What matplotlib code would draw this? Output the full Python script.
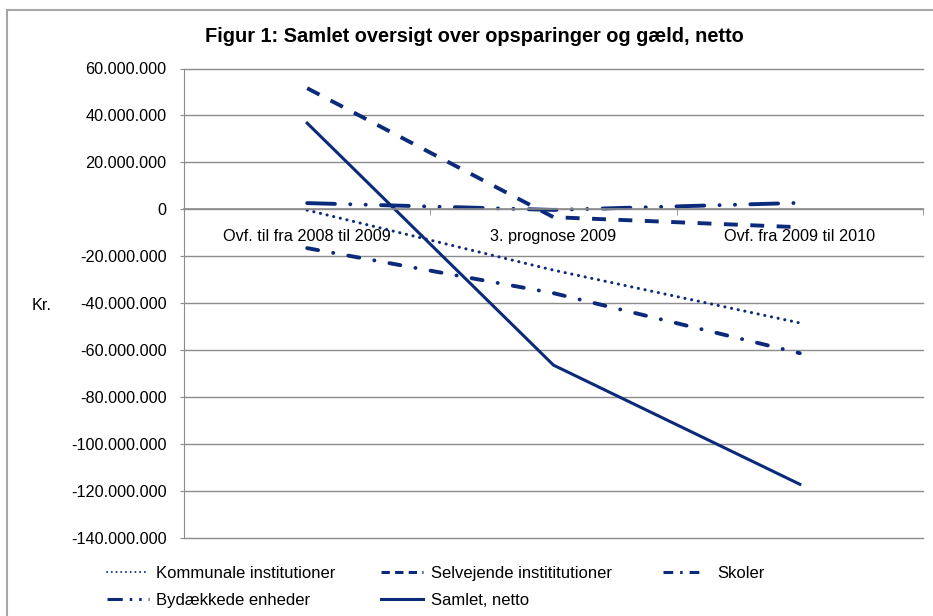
import numpy as np
import matplotlib
matplotlib.use("Agg")
import matplotlib.pyplot as plt
from matplotlib.ticker import FuncFormatter, FixedLocator
from matplotlib.patches import Rectangle
from matplotlib.lines import Line2D

plt.rcParams["font.family"] = ["Liberation Sans", "DejaVu Sans"]
plt.rcParams["lines.scale_dashes"] = False

# data
categories = ["Ovf. til fra 2008 til 2009", "3. prognose 2009", "Ovf. fra 2009 til 2010"]
kommunale = [-400000, -26000000, -48500000]
selvejende = [51600000, -3400000, -7700000]
skoler = [-16600000, -35800000, -61400000]
bydaekkede = [2600000, -300000, 2700000]
samlet = [36700000, -66500000, -117300000]

navy = "#0b2a7a"
grid_col = "#8c8c8c"

fig = plt.figure(figsize=(9.33, 6.16), dpi=100)
fig.patches.append(Rectangle((7.5 / 933, -0.05), 1.2, 1 - 10 / 616 + 0.05, transform=fig.transFigure,
                             fill=False, edgecolor="#a6a6a6", linewidth=1.5))

ax = fig.add_axes([184 / 933, 1 - 537.5 / 616, (923 - 184) / 933, (537.5 - 68.5) / 616])
x = np.arange(len(categories))

# linjer
ax.plot(x, kommunale, color=navy, lw=2.2, linestyle=(0, (0.1, 4.8)), dash_capstyle="round")
ax.plot(x, selvejende, color=navy, lw=2.8, linestyle=(0, (10, 9)), dash_capstyle="butt")
ax.plot(x, skoler, color=navy, lw=2.8, linestyle=(0, (8, 11, 0.1, 11)), dash_capstyle="round")
ax.plot(x, bydaekkede, color=navy, lw=2.8, linestyle=(0, (20, 11, 0.1, 11, 0.1, 11)),
        dash_capstyle="round")
ax.plot(x, samlet, color=navy, lw=2.2, linestyle="-")

ax.set_xlim(-0.5, 2.5)
ax.set_ylim(-140000000, 60000000)
ax.set_yticks(np.arange(-140000000, 60000001, 20000000))
ax.yaxis.set_major_formatter(FuncFormatter(lambda v, p: "{:,.0f}".format(v).replace(",", ".")))
ax.yaxis.grid(True, color=grid_col, linewidth=1)
for gl in ax.get_ygridlines():
    gl.set_clip_on(False)
ax.set_axisbelow(True)

for s in ["top", "right"]:
    ax.spines[s].set_visible(False)
ax.spines["left"].set_color(grid_col)
ax.spines["bottom"].set_color(grid_col)
ax.spines["bottom"].set_position(("data", 0))
ax.spines["bottom"].set_linewidth(1.2)

ax.set_xticks(x)
ax.set_xticklabels(categories)
ax.xaxis.set_minor_locator(FixedLocator([0.5, 1.5, 2.5]))
ax.tick_params(axis="x", which="major", length=0, pad=14.5, labelsize=11.7)
ax.tick_params(axis="x", which="minor", length=4, color=grid_col, direction="out")
ax.tick_params(axis="y", length=3, color=grid_col, pad=9.5, labelsize=11.7)

fig.text(32 / 933, 1 - 306 / 616, "Kr.", fontsize=11.7, ha="left", va="center")
fig.text(474 / 933, 1 - 37 / 616, "Figur 1: Samlet oversigt over opsparinger og gæld, netto",
         fontsize=14.4, fontweight="bold", ha="center", va="center")

# legend med korte streg-mønstre
h_kom = Line2D([], [], color=navy, lw=1.4, linestyle=(0, (0.1, 3.3)), dash_capstyle="round")
h_sel = Line2D([], [], color=navy, lw=2.2, linestyle=(0, (6, 3.8)), dash_capstyle="butt")
h_sko = Line2D([], [], color=navy, lw=2.2, linestyle=(0, (7, 5, 1.8, 5)), dash_capstyle="butt")
h_byd = Line2D([], [], color=navy, lw=2.2, linestyle=(0, (11, 5, 1.8, 5, 1.8, 5)), dash_capstyle="butt")
h_sam = Line2D([], [], color=navy, lw=2.2, linestyle="-")

leg_kw = dict(frameon=False, fontsize=12, handlelength=2.5, handletextpad=0.45,
              borderaxespad=0, borderpad=0, labelspacing=0.7)
fig.legend([h_kom, h_byd, h_sel, h_sam],
           ["Kommunale institutioner", "Bydækkede enheder",
            "Selvejende instititutioner", "Samlet, netto"],
           ncol=2, columnspacing=2.75, loc="upper left",
           bbox_to_anchor=(107 / 933, 1 - 566 / 616), **leg_kw)
leg_kw["handlelength"] = 2.35
leg_kw["handletextpad"] = 0.9
fig.legend([h_sko], ["Skoler"], loc="upper left",
           bbox_to_anchor=(663 / 933, 1 - 566 / 616), **leg_kw)

fig.savefig("out.png", dpi=100)
